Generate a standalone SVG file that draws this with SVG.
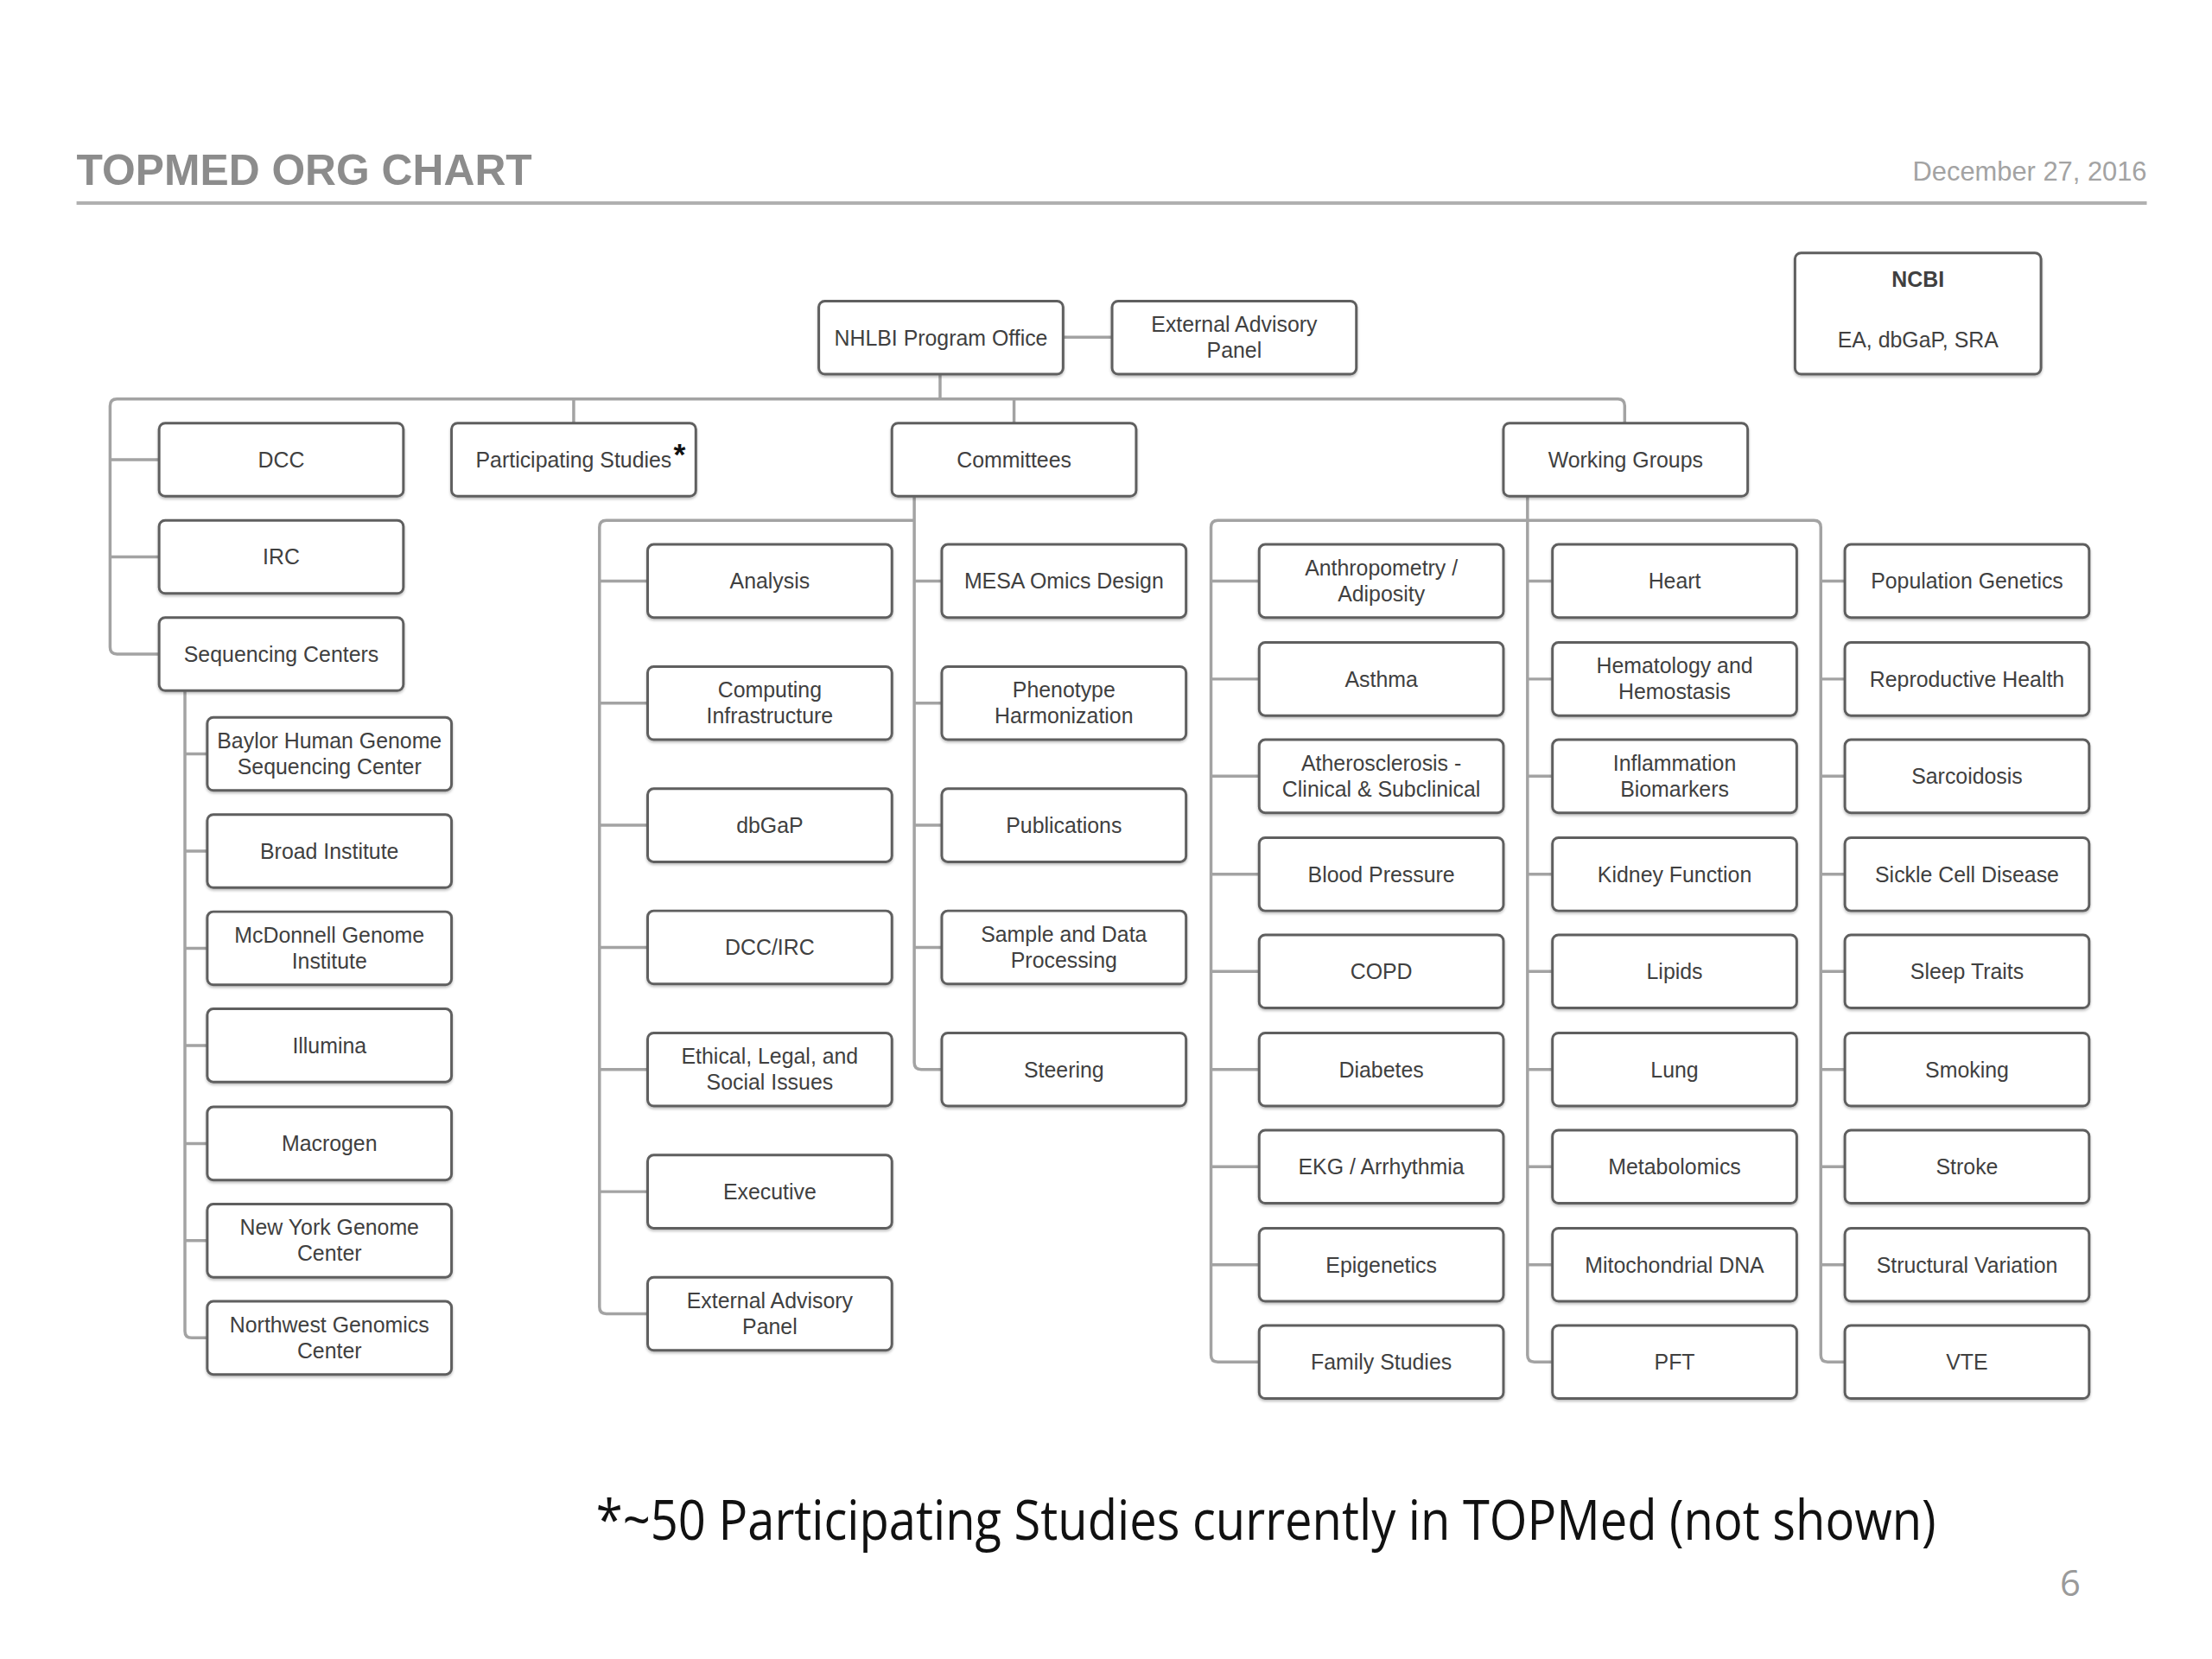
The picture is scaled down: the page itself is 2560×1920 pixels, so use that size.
<svg xmlns="http://www.w3.org/2000/svg" width="2560" height="1920" viewBox="0 0 2560 1920">
<style>
.box{fill:#fff;stroke:#5e5e5e;stroke-width:3;filter:url(#sh)}
.lbl{font-family:"Liberation Sans",Arial,sans-serif;font-size:25px;fill:#404040;text-anchor:middle}
.conn path{fill:none;stroke:#a3a3a3;stroke-width:3.5}
</style>
<defs>
<filter id="sh" x="-5%" y="-10%" width="110%" height="130%">
<feDropShadow dx="0" dy="2" stdDeviation="1.5" flood-color="#000" flood-opacity="0.25"/>
</filter>
</defs>
<rect width="2560" height="1920" fill="#fff"/>
<g id="page" transform="scale(0.9954)">
<text x="89" y="215" font-family="'Liberation Sans',Arial,sans-serif" font-size="50" font-weight="bold" fill="#8c8c8c">TOPMED ORG CHART</text>
<text x="2496" y="210" font-family="'Liberation Sans',Arial,sans-serif" font-size="31" fill="#a3a3a3" text-anchor="end">December 27, 2016</text>
<line x1="89" y1="236" x2="2496" y2="236" stroke="#b0b0b0" stroke-width="4"/>

<g class="conn">
<path d="M1236,392 H1293"/>
<path d="M1093,435 V464"/>
<path d="M185,760.5 H136 Q128,760.5 128,752.5 V472 Q128,464 136,464 H1881 Q1889,464 1889,472 V492"/>
<path d="M128,534.5 H185 M128,647.5 H185 M667,464 V492 M1179,464 V492"/>
<path d="M215,803 V1547.5 Q215,1555.5 223,1555.5 H241"/>
<path d="M215,876.5 H241 M215,989.5 H241 M215,1102.5 H241 M215,1215.5 H241 M215,1329.5 H241 M215,1442.5 H241"/>
<path d="M1063,578 V1235.5 Q1063,1243.5 1071,1243.5 H1095"/>
<path d="M1063,675.5 H1095 M1063,817.5 H1095 M1063,959.5 H1095 M1063,1101.5 H1095"/>
<path d="M1063,605 H705 Q697,605 697,613 V1519.5 Q697,1527.5 705,1527.5 H753"/>
<path d="M697,675.5 H753 M697,817.5 H753 M697,959.5 H753 M697,1101.5 H753 M697,1243.5 H753 M697,1385.5 H753"/>
<path d="M1776,578 V1575.5 Q1776,1583.5 1784,1583.5 H1805"/>
<path d="M1464,1583.5 H1416 Q1408,1583.5 1408,1575.5 V613 Q1408,605 1416,605 H2109 Q2117,605 2117,613 V1575.5 Q2117,1583.5 2125,1583.5 H2145"/>
<path d="M1408,675.5 H1464 M1408,789.5 H1464 M1408,902.5 H1464 M1408,1016.5 H1464 M1408,1129.5 H1464 M1408,1243.5 H1464 M1408,1356.5 H1464 M1408,1470.5 H1464"/>
<path d="M1776,675.5 H1805 M1776,789.5 H1805 M1776,902.5 H1805 M1776,1016.5 H1805 M1776,1129.5 H1805 M1776,1243.5 H1805 M1776,1356.5 H1805 M1776,1470.5 H1805"/>
<path d="M2117,675.5 H2145 M2117,789.5 H2145 M2117,902.5 H2145 M2117,1016.5 H2145 M2117,1129.5 H2145 M2117,1243.5 H2145 M2117,1356.5 H2145 M2117,1470.5 H2145"/>
</g>

<g id="nhlbi"><rect class="box" x="952" y="350" width="284" height="85" rx="7"/><text class="lbl" x="1094" y="401.5">NHLBI Program Office</text></g>
<g id="eap-top"><rect class="box" x="1293" y="350" width="284" height="85" rx="7"/><text class="lbl" x="1435" y="386">External Advisory</text><text class="lbl" x="1435" y="416">Panel</text></g>
<g id="ncbi"><rect class="box" x="2087" y="294" width="286" height="141" rx="7"/><text class="lbl" x="2230" y="334" font-weight="bold" fill="#222">NCBI</text><text class="lbl" x="2230" y="404">EA, dbGaP, SRA</text></g>

<g id="dcc"><rect class="box" x="185" y="492" width="284" height="85" rx="7"/><text class="lbl" x="327" y="543.5">DCC</text></g>
<g id="participating"><rect class="box" x="525" y="492" width="284" height="85" rx="7"/><text class="lbl" x="667" y="543.5">Participating Studies</text><text x="790" y="540" font-family="'Liberation Sans',Arial,sans-serif" font-size="36" font-weight="bold" fill="#111" text-anchor="middle">*</text></g>
<g id="committees"><rect class="box" x="1037" y="492" width="284" height="85" rx="7"/><text class="lbl" x="1179" y="543.5">Committees</text></g>
<g id="working-groups"><rect class="box" x="1748" y="492" width="284" height="85" rx="7"/><text class="lbl" x="1890" y="543.5">Working Groups</text></g>
<g id="irc"><rect class="box" x="185" y="605" width="284" height="85" rx="7"/><text class="lbl" x="327" y="656.5">IRC</text></g>
<g id="seq"><rect class="box" x="185" y="718" width="284" height="85" rx="7"/><text class="lbl" x="327" y="769.5">Sequencing Centers</text></g>

<g id="baylor"><rect class="box" x="241" y="834" width="284" height="85" rx="7"/><text class="lbl" x="383" y="870">Baylor Human Genome</text><text class="lbl" x="383" y="900">Sequencing Center</text></g>
<g id="broad"><rect class="box" x="241" y="947" width="284" height="85" rx="7"/><text class="lbl" x="383" y="998.5">Broad Institute</text></g>
<g id="mcdonnell"><rect class="box" x="241" y="1060" width="284" height="85" rx="7"/><text class="lbl" x="383" y="1096">McDonnell Genome</text><text class="lbl" x="383" y="1126">Institute</text></g>
<g id="illumina"><rect class="box" x="241" y="1173" width="284" height="85" rx="7"/><text class="lbl" x="383" y="1224.5">Illumina</text></g>
<g id="macrogen"><rect class="box" x="241" y="1287" width="284" height="85" rx="7"/><text class="lbl" x="383" y="1338.5">Macrogen</text></g>
<g id="nygc"><rect class="box" x="241" y="1400" width="284" height="85" rx="7"/><text class="lbl" x="383" y="1436">New York Genome</text><text class="lbl" x="383" y="1466">Center</text></g>
<g id="northwest"><rect class="box" x="241" y="1513" width="284" height="85" rx="7"/><text class="lbl" x="383" y="1549">Northwest Genomics</text><text class="lbl" x="383" y="1579">Center</text></g>

<g id="analysis"><rect class="box" x="753" y="633" width="284" height="85" rx="7"/><text class="lbl" x="895" y="684.5">Analysis</text></g>
<g id="computing"><rect class="box" x="753" y="775" width="284" height="85" rx="7"/><text class="lbl" x="895" y="811">Computing</text><text class="lbl" x="895" y="841">Infrastructure</text></g>
<g id="dbgap"><rect class="box" x="753" y="917" width="284" height="85" rx="7"/><text class="lbl" x="895" y="968.5">dbGaP</text></g>
<g id="dccirc"><rect class="box" x="753" y="1059" width="284" height="85" rx="7"/><text class="lbl" x="895" y="1110.5">DCC/IRC</text></g>
<g id="elsi"><rect class="box" x="753" y="1201" width="284" height="85" rx="7"/><text class="lbl" x="895" y="1237">Ethical, Legal, and</text><text class="lbl" x="895" y="1267">Social Issues</text></g>
<g id="executive"><rect class="box" x="753" y="1343" width="284" height="85" rx="7"/><text class="lbl" x="895" y="1394.5">Executive</text></g>
<g id="eap-comm"><rect class="box" x="753" y="1485" width="284" height="85" rx="7"/><text class="lbl" x="895" y="1521">External Advisory</text><text class="lbl" x="895" y="1551">Panel</text></g>

<g id="mesa"><rect class="box" x="1095" y="633" width="284" height="85" rx="7"/><text class="lbl" x="1237" y="684.5">MESA Omics Design</text></g>
<g id="phenotype"><rect class="box" x="1095" y="775" width="284" height="85" rx="7"/><text class="lbl" x="1237" y="811">Phenotype</text><text class="lbl" x="1237" y="841">Harmonization</text></g>
<g id="publications"><rect class="box" x="1095" y="917" width="284" height="85" rx="7"/><text class="lbl" x="1237" y="968.5">Publications</text></g>
<g id="sample"><rect class="box" x="1095" y="1059" width="284" height="85" rx="7"/><text class="lbl" x="1237" y="1095">Sample and Data</text><text class="lbl" x="1237" y="1125">Processing</text></g>
<g id="steering"><rect class="box" x="1095" y="1201" width="284" height="85" rx="7"/><text class="lbl" x="1237" y="1252.5">Steering</text></g>

<g id="anthro"><rect class="box" x="1464" y="633" width="284" height="85" rx="7"/><text class="lbl" x="1606" y="669">Anthropometry /</text><text class="lbl" x="1606" y="699">Adiposity</text></g>
<g id="asthma"><rect class="box" x="1464" y="747" width="284" height="85" rx="7"/><text class="lbl" x="1606" y="798.5">Asthma</text></g>
<g id="athero"><rect class="box" x="1464" y="860" width="284" height="85" rx="7"/><text class="lbl" x="1606" y="896">Atherosclerosis -</text><text class="lbl" x="1606" y="926">Clinical &amp; Subclinical</text></g>
<g id="bp"><rect class="box" x="1464" y="974" width="284" height="85" rx="7"/><text class="lbl" x="1606" y="1025.5">Blood Pressure</text></g>
<g id="copd"><rect class="box" x="1464" y="1087" width="284" height="85" rx="7"/><text class="lbl" x="1606" y="1138.5">COPD</text></g>
<g id="diabetes"><rect class="box" x="1464" y="1201" width="284" height="85" rx="7"/><text class="lbl" x="1606" y="1252.5">Diabetes</text></g>
<g id="ekg"><rect class="box" x="1464" y="1314" width="284" height="85" rx="7"/><text class="lbl" x="1606" y="1365.5">EKG / Arrhythmia</text></g>
<g id="epigenetics"><rect class="box" x="1464" y="1428" width="284" height="85" rx="7"/><text class="lbl" x="1606" y="1479.5">Epigenetics</text></g>
<g id="family"><rect class="box" x="1464" y="1541" width="284" height="85" rx="7"/><text class="lbl" x="1606" y="1592.5">Family Studies</text></g>

<g id="heart"><rect class="box" x="1805" y="633" width="284" height="85" rx="7"/><text class="lbl" x="1947" y="684.5">Heart</text></g>
<g id="hematology"><rect class="box" x="1805" y="747" width="284" height="85" rx="7"/><text class="lbl" x="1947" y="783">Hematology and</text><text class="lbl" x="1947" y="813">Hemostasis</text></g>
<g id="inflammation"><rect class="box" x="1805" y="860" width="284" height="85" rx="7"/><text class="lbl" x="1947" y="896">Inflammation</text><text class="lbl" x="1947" y="926">Biomarkers</text></g>
<g id="kidney"><rect class="box" x="1805" y="974" width="284" height="85" rx="7"/><text class="lbl" x="1947" y="1025.5">Kidney Function</text></g>
<g id="lipids"><rect class="box" x="1805" y="1087" width="284" height="85" rx="7"/><text class="lbl" x="1947" y="1138.5">Lipids</text></g>
<g id="lung"><rect class="box" x="1805" y="1201" width="284" height="85" rx="7"/><text class="lbl" x="1947" y="1252.5">Lung</text></g>
<g id="metabolomics"><rect class="box" x="1805" y="1314" width="284" height="85" rx="7"/><text class="lbl" x="1947" y="1365.5">Metabolomics</text></g>
<g id="mito"><rect class="box" x="1805" y="1428" width="284" height="85" rx="7"/><text class="lbl" x="1947" y="1479.5">Mitochondrial DNA</text></g>
<g id="pft"><rect class="box" x="1805" y="1541" width="284" height="85" rx="7"/><text class="lbl" x="1947" y="1592.5">PFT</text></g>

<g id="popgen"><rect class="box" x="2145" y="633" width="284" height="85" rx="7"/><text class="lbl" x="2287" y="684.5">Population Genetics</text></g>
<g id="repro"><rect class="box" x="2145" y="747" width="284" height="85" rx="7"/><text class="lbl" x="2287" y="798.5">Reproductive Health</text></g>
<g id="sarcoidosis"><rect class="box" x="2145" y="860" width="284" height="85" rx="7"/><text class="lbl" x="2287" y="911.5">Sarcoidosis</text></g>
<g id="sickle"><rect class="box" x="2145" y="974" width="284" height="85" rx="7"/><text class="lbl" x="2287" y="1025.5">Sickle Cell Disease</text></g>
<g id="sleep"><rect class="box" x="2145" y="1087" width="284" height="85" rx="7"/><text class="lbl" x="2287" y="1138.5">Sleep Traits</text></g>
<g id="smoking"><rect class="box" x="2145" y="1201" width="284" height="85" rx="7"/><text class="lbl" x="2287" y="1252.5">Smoking</text></g>
<g id="stroke"><rect class="box" x="2145" y="1314" width="284" height="85" rx="7"/><text class="lbl" x="2287" y="1365.5">Stroke</text></g>
<g id="structural"><rect class="box" x="2145" y="1428" width="284" height="85" rx="7"/><text class="lbl" x="2287" y="1479.5">Structural Variation</text></g>
<g id="vte"><rect class="box" x="2145" y="1541" width="284" height="85" rx="7"/><text class="lbl" x="2287" y="1592.5">VTE</text></g>

<text x="693" y="1790" font-family="'Open Sans','Noto Sans',sans-serif" font-size="64" fill="#111" textLength="1558" lengthAdjust="spacingAndGlyphs">*~50 Participating Studies currently in TOPMed (not shown)</text>
<text x="2407" y="1856" font-family="'Open Sans','Noto Sans',sans-serif" font-size="42" fill="#9a9a9a" text-anchor="middle">6</text>
</g>
</svg>
